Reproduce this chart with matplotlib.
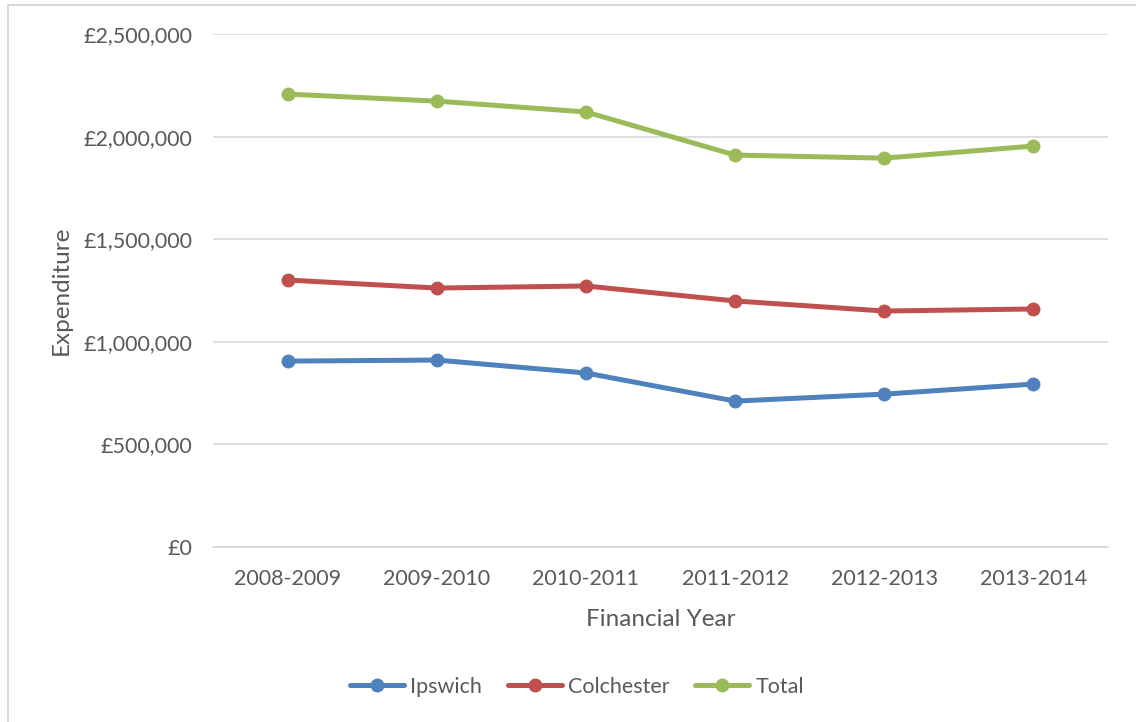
import matplotlib.pyplot as plt
import matplotlib.ticker as mticker
from matplotlib.patches import Rectangle

years = ["2008-2009", "2009-2010", "2010-2011", "2011-2012", "2012-2013", "2013-2014"]
ipswich = [906000, 911000, 848000, 711000, 745000, 794000]
colchester = [1301000, 1262000, 1272000, 1199000, 1150000, 1160000]
total = [2207000, 2173000, 2120000, 1910000, 1895000, 1954000]

plt.rcParams['font.family'] = ['Lato', 'DejaVu Sans']
txt = '#595959'

fig = plt.figure(figsize=(11.36, 7.22), dpi=100)
ax = fig.add_axes([213 / 1136, 1 - 547 / 722, (1108 - 213) / 1136, (547 - 34) / 722])

x = range(len(years))
for vals, col, name in [(ipswich, '#4F81BD', 'Ipswich'),
                        (colchester, '#C0504D', 'Colchester'),
                        (total, '#9BBB59', 'Total')]:
    ax.plot(x, vals, color=col, lw=3.6, marker='o', ms=9, label=name,
            solid_capstyle='round', zorder=3)

ax.set_xlim(-0.5, 5.5)
ax.set_ylim(0, 2500000)
ax.set_yticks(range(0, 2500001, 500000))
ax.yaxis.set_major_formatter(mticker.FuncFormatter(lambda v, p: "£{:,.0f}".format(v)))
ax.set_xticks(list(x))
ax.set_xticklabels(years)
ax.grid(axis='y', color='#D9D9D9', lw=1.2)
ax.set_axisbelow(True)
for s in ['top', 'right', 'left']:
    ax.spines[s].set_visible(False)
ax.spines['bottom'].set_color('#D9D9D9')
ax.spines['bottom'].set_linewidth(1.2)
ax.tick_params(length=0, labelsize=15.5, labelcolor=txt)
ax.tick_params(axis='y', pad=15)
ax.tick_params(axis='x', pad=16)

ax.set_xlabel("Financial Year", fontsize=17.5, color=txt, labelpad=14)
ax.set_ylabel("Expenditure", fontsize=17.5, color=txt, labelpad=8)

fig.legend(loc='center', bbox_to_anchor=(577 / 1136, 1 - 687 / 722), ncol=3,
           frameon=False, fontsize=15.5, labelcolor=txt, handlelength=2.5,
           handletextpad=0.3, columnspacing=1.2)

# outer chart border
fig.patches.append(Rectangle((8 / 1136, -0.1), 1.2, 1 - 5 / 722 + 0.1,
                             transform=fig.transFigure, fill=False,
                             edgecolor='#D9D9D9', lw=1.5))

fig.savefig("out.png", dpi=100)
